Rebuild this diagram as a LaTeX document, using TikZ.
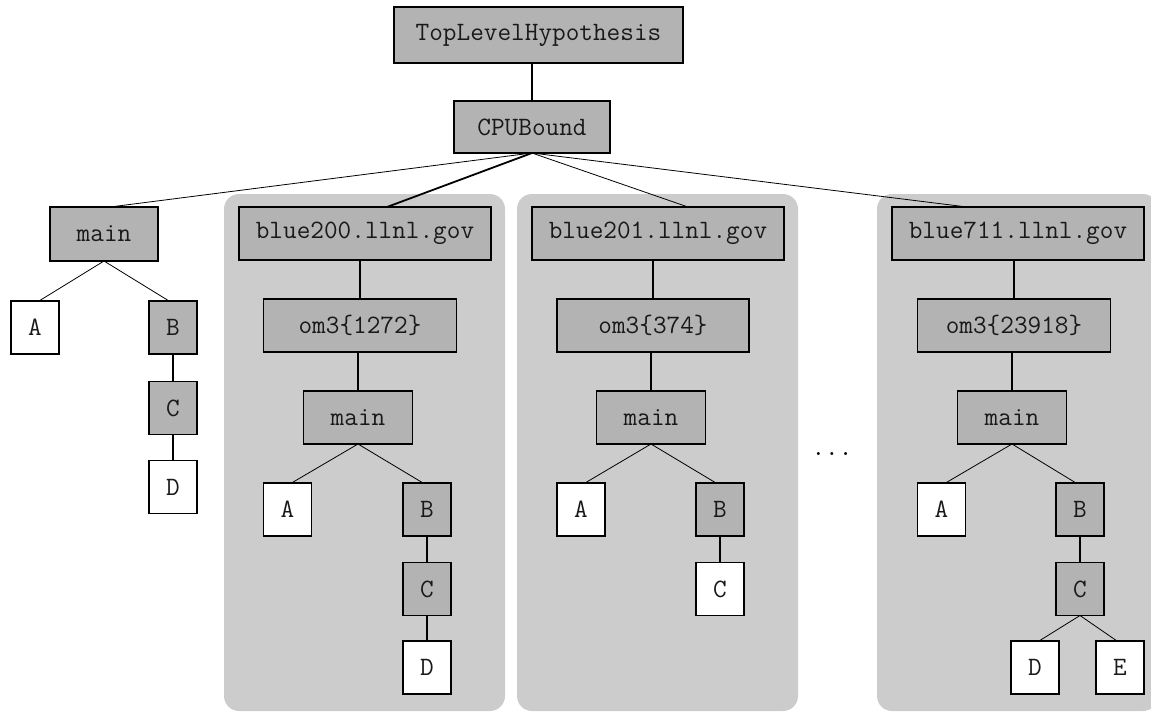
\documentclass[tikz,border=0pt]{standalone}
\definecolor{boxgrey}{HTML}{B3B3B3}
\definecolor{panelgrey}{HTML}{CCCCCC}
\begin{document}
\begin{tikzpicture}[x=1pt,y=-1pt,
  base/.style={draw=black, line width=1.5pt, inner sep=0pt, outer sep=0pt,
    font=\ttfamily\fontsize{26.5}{30}\selectfont, text=black!90},
  gbox/.style={base, fill=boxgrey},
  wbox/.style={base, fill=white},
  sq/.style={minimum width=48pt, minimum height=53pt},
  panel/.style={fill=panelgrey, rounded corners=15pt},
  thick link/.style={line width=1.8pt},
  thin link/.style={line width=0.8pt}]
\useasboundingbox (0,0) rectangle (1151,713);

% host panels
\fill[panel] (224,194) rectangle (505,711);
\fill[panel] (517,194) rectangle (798,711);
\fill[panel] (877,194) rectangle (1158,711);

% top of the hierarchy
\node[gbox, minimum width=289pt, minimum height=56pt] (tlh) at (538.5,35) {TopLevelHypothesis};
\node[gbox, minimum width=156pt, minimum height=52pt] (cpu) at (532,127) {CPUBound};

% whole-program call tree
\node[gbox, minimum width=108pt, minimum height=54pt] (m0) at (104,234) {main};
\node[wbox, sq] (a0) at (35,327.5) {A};
\node[gbox, sq] (b0) at (173,327.5) {B};
\node[gbox, sq] (c0) at (173,408) {C};
\node[wbox, sq] (d0) at (173,487) {D};

% host blue200
\node[gbox, minimum width=252pt, minimum height=53pt] (h1) at (365,233.5) {blue200.llnl.gov};
\node[gbox, minimum width=193pt, minimum height=53pt] (o1) at (360,325.5) {om3\{1272\}};
\node[gbox, minimum width=109pt, minimum height=53pt] (m1) at (358,417.5) {main};
\node[wbox, sq] (a1) at (287.5,509.5) {A};
\node[gbox, sq] (b1) at (427,509.5) {B};
\node[gbox, sq] (c1) at (427,589) {C};
\node[wbox, sq] (d1) at (427,667.5) {D};

% host blue201
\node[gbox, minimum width=252pt, minimum height=53pt] (h2) at (658,233.5) {blue201.llnl.gov};
\node[gbox, minimum width=192pt, minimum height=53pt] (o2) at (653,325.5) {om3\{374\}};
\node[gbox, minimum width=109pt, minimum height=53pt] (m2) at (651,417.5) {main};
\node[wbox, sq] (a2) at (581,509.5) {A};
\node[gbox, sq] (b2) at (720,509.5) {B};
\node[wbox, sq] (c2) at (720,589) {C};

% host blue711
\node[gbox, minimum width=252pt, minimum height=53pt] (h3) at (1018,233.5) {blue711.llnl.gov};
\node[gbox, minimum width=193pt, minimum height=53pt] (o3) at (1014,325.5) {om3\{23918\}};
\node[gbox, minimum width=109pt, minimum height=53pt] (m3) at (1012,417.5) {main};
\node[wbox, sq] (a3) at (941.5,509.5) {A};
\node[gbox, sq] (b3) at (1080,509.5) {B};
\node[gbox, sq] (c3) at (1080,589) {C};
\node[wbox, sq] (d3) at (1035,667.5) {D};
\node[wbox, sq] (e3) at (1120,667.5) {E};

% ellipsis between hosts
\node[font=\ttfamily\fontsize{26.5}{30}\selectfont, inner sep=0pt, anchor=base] (dots) at (832,455) {...};

% connectors
\draw[thick link] (cpu.north) -- (cpu.north |- tlh.south);
\draw[thin link] (cpu.south) -- ([xshift=6pt]m0.north);
\draw[thick link] (cpu.south) -- ([xshift=22pt]h1.north);
\draw[thin link] (cpu.south) -- ([xshift=30pt]h2.north);
\draw[thin link] (cpu.south) -- ([xshift=-51pt]h3.north);

\foreach \i in {0,1,2,3}{
  \draw[thin link] (m\i.south) -- ([xshift=4pt]a\i.north);
  \draw[thin link] (m\i.south) -- ([xshift=-4pt]b\i.north);
  \draw[thick link] (b\i.south) -- (c\i.north);
}
\draw[thick link] (c0.south) -- (d0.north);
\draw[thick link] (c1.south) -- (d1.north);
\foreach \i in {1,2,3}{
  \draw[thick link] (o\i.north) -- (o\i.north |- h\i.south);
  \draw[thick link] (m\i.north) -- (m\i.north |- o\i.south);
}
\draw[thin link] (c3.south) -- ([xshift=4pt]d3.north);
\draw[thin link] (c3.south) -- ([xshift=-3pt]e3.north);
\end{tikzpicture}
\end{document}
